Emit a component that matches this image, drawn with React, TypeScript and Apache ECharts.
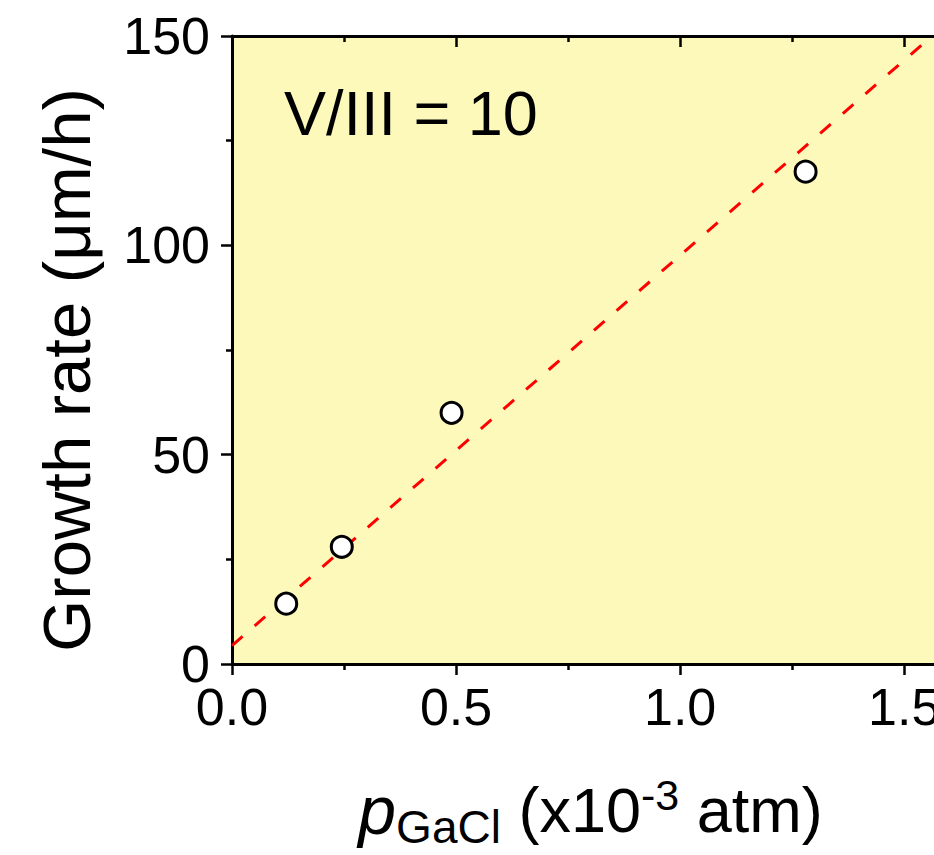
import React, { useEffect, useRef } from "react";
import * as echarts from "echarts";

// Data
const pressure = [0.121, 0.245, 0.49, 1.28]; // p_GaCl (x10^-3 atm)
const growthRate = [14.4, 28.0, 60.0, 117.6]; // µm/h
const fitX = [0, 1.562];
const fitY = [4.4, 150];
const xMin = 0;
const xMax = 1.6;
const xInterval = 0.5;
const yMin = 0;
const yMax = 150;
const yInterval = 50;
const annotation = "V/III = 10";

const FONT = "'Liberation Sans', Arial, sans-serif";

export default function App() {
  const ref = useRef<HTMLDivElement>(null);
  useEffect(() => {
    if (!ref.current) return;
    const chart = echarts.init(ref.current, undefined, { renderer: "svg" });
    const axisLine = { show: true, onZero: false, lineStyle: { color: "#000", width: 3 } };
    const majorTick = (inside: boolean) => ({
      show: true,
      inside,
      length: 11,
      lineStyle: { color: "#000", width: 2.5 },
    });
    const minorTick = () => ({
      show: true,
      splitNumber: 2,
      length: 6,
      lineStyle: { color: "#000", width: 2.5 },
    });
    const fitData = fitX.map((x, i) => [x, fitY[i]]);
    const scatterData = pressure.map((x, i) => [x, growthRate[i]]);
    chart.setOption({
      animation: false,
      backgroundColor: "#ffffff",
      textStyle: { fontFamily: FONT },
      grid: {
        show: true,
        left: 232,
        top: 36,
        width: 717,
        height: 628,
        backgroundColor: "#FCF9BB",
        borderWidth: 0,
        outerBoundsMode: "none",
        containLabel: false,
      },
      xAxis: [
        {
          type: "value",
          position: "bottom",
          min: xMin,
          max: xMax,
          interval: xInterval,
          axisLine,
          axisTick: majorTick(false),
          minorTick: minorTick(),
          splitLine: { show: false },
          axisLabel: {
            show: true,
            showMaxLabel: false,
            margin: 21,
            lineHeight: 44,
            color: "#000",
            fontSize: 52,
            fontFamily: FONT,
            formatter: (v: number) => v.toFixed(1),
          },
          name: "{p|p}{sub|GaCl}{n| (x10}{sup|-3}{n| atm)}",
          nameLocation: "middle",
          nameGap: 106,
          nameTextStyle: {
            color: "#000",
            fontFamily: FONT,
            rich: {
              p: { fontSize: 68, fontStyle: "italic", fontFamily: FONT, color: "#000", lineHeight: 80, verticalAlign: "middle" },
              n: { fontSize: 63, fontFamily: FONT, color: "#000", lineHeight: 80, verticalAlign: "middle" },
              sub: { fontSize: 46, fontFamily: FONT, color: "#000", padding: [34, 0, 0, 0], verticalAlign: "middle" },
              sup: { fontSize: 43, fontFamily: FONT, color: "#000", padding: [0, 0, 30, 0], verticalAlign: "middle" },
            },
          },
        },
        {
          type: "value",
          position: "top",
          min: xMin,
          max: xMax,
          interval: xInterval,
          axisLine,
          axisTick: majorTick(true),
          minorTick: minorTick(),
          splitLine: { show: false },
          axisLabel: { show: false },
        },
      ],
      yAxis: [
        {
          type: "value",
          position: "left",
          min: yMin,
          max: yMax,
          interval: yInterval,
          axisLine,
          axisTick: majorTick(false),
          minorTick: minorTick(),
          splitLine: { show: false },
          axisLabel: {
            show: true,
            margin: 22,
            lineHeight: 40,
            color: "#000",
            fontSize: 52,
            fontFamily: FONT,
          },
          name: "Growth rate (μm/h)",
          nameLocation: "middle",
          nameGap: 132,
          nameTextStyle: { color: "#000", fontSize: 67, fontFamily: FONT, padding: [0, 40, 0, 0] },
        },
        {
          type: "value",
          position: "right",
          min: yMin,
          max: yMax,
          interval: yInterval,
          axisLine,
          axisTick: majorTick(true),
          minorTick: minorTick(),
          splitLine: { show: false },
          axisLabel: { show: false },
        },
      ],
      graphic: [
        {
          type: "text",
          left: 284,
          top: 81,
          style: {
            text: annotation,
            fill: "#000",
            font: `63px ${FONT}`,
          },
        },
      ],
      series: [
        {
          type: "line",
          data: fitData,
          xAxisIndex: 0,
          yAxisIndex: 0,
          symbol: "none",
          clip: true,
          lineStyle: { color: "#FF0000", width: 3, type: [14, 16] },
          z: 2,
        },
        {
          type: "scatter",
          data: scatterData,
          xAxisIndex: 0,
          yAxisIndex: 0,
          symbol: "circle",
          symbolSize: 21,
          itemStyle: { color: "#FFFFFF", borderColor: "#000", borderWidth: 3, opacity: 1 },
          z: 3,
        },
      ],
    });
    return () => chart.dispose();
  }, []);
  return (
    <div
      ref={ref}
      style={{ position: "fixed", left: 0, top: 0, width: 934, height: 855 }}
    />
  );
}
